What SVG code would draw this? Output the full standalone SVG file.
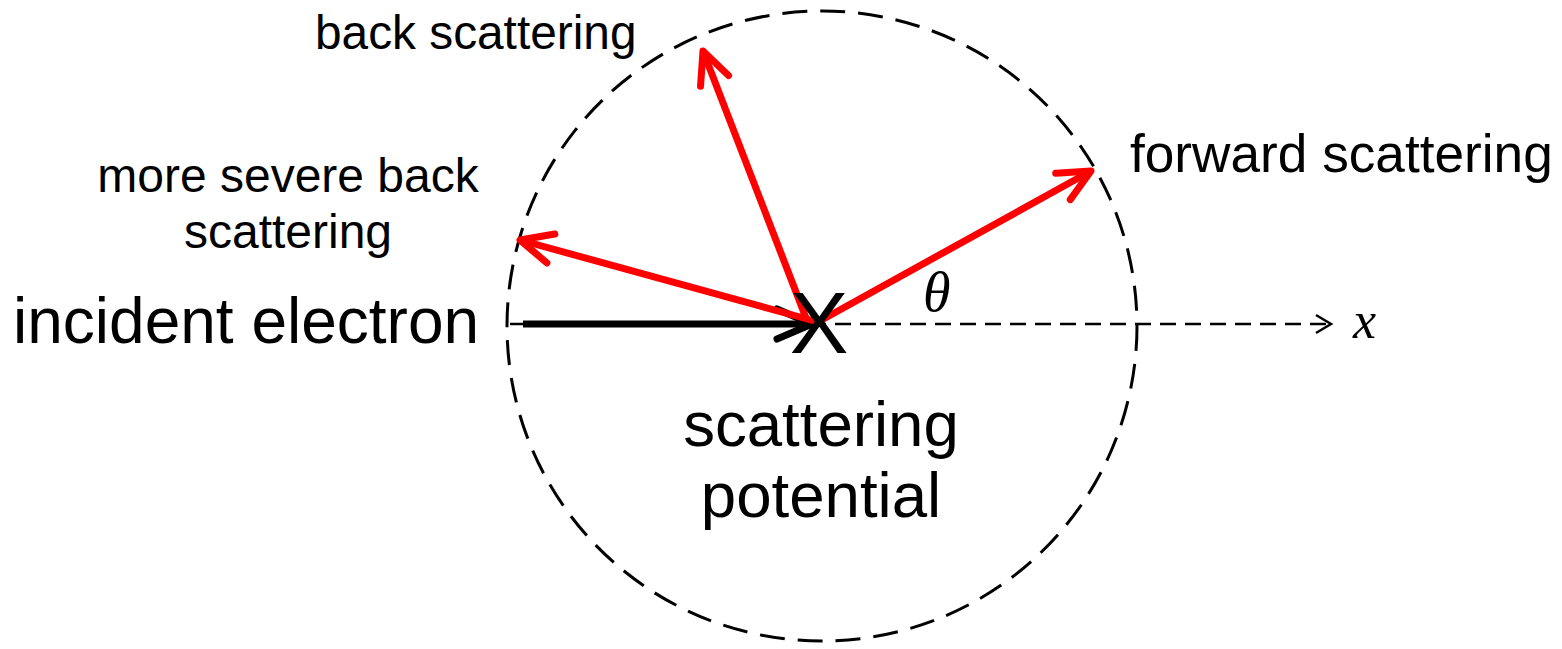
<svg xmlns="http://www.w3.org/2000/svg" width="1562" height="649" viewBox="0 0 1562 649">
<style>
.t{font-family:"Liberation Sans",Arial,sans-serif;fill:#000}
.m{font-family:"Liberation Serif","Times New Roman",serif;font-style:italic;fill:#000}
.red{stroke:#FF0000;stroke-width:7;fill:none}
.blk{stroke:#000;stroke-width:7;fill:none}
</style>
<defs>
<marker id="arR" markerUnits="userSpaceOnUse" viewBox="-40 -25 50 50" refX="0" refY="0" markerWidth="50" markerHeight="50" orient="auto" overflow="visible">
<path d="M-32,-15 L0,0 L-32,15" fill="none" stroke="#FF0000" stroke-width="7" stroke-linecap="round" stroke-linejoin="round"/>
</marker>
<marker id="arK" markerUnits="userSpaceOnUse" viewBox="-40 -25 50 50" refX="0" refY="0" markerWidth="50" markerHeight="50" orient="auto" overflow="visible">
<path d="M-35,-15 L0,0 L-35,15" fill="none" stroke="#000" stroke-width="7" stroke-linecap="round" stroke-linejoin="round"/>
</marker>
<marker id="arT" markerUnits="userSpaceOnUse" viewBox="-20 -12 24 24" refX="0" refY="0" markerWidth="24" markerHeight="24" orient="auto" overflow="visible">
<path d="M-15,-9 L0,0 L-15,9" fill="none" stroke="#000" stroke-width="2.5"/>
</marker>
</defs>
<g id="potential-circle">
<circle cx="822" cy="326" r="315" fill="none" stroke="#000" stroke-width="3" stroke-dasharray="25 13"/>
</g>
<g id="connectors">
<line id="x-axis" x1="510" y1="324" x2="1331" y2="324" stroke="#000" stroke-width="2.5" stroke-dasharray="16 9" marker-end="url(#arT)"/>
<line id="incident" x1="523" y1="324" x2="812" y2="324" class="blk" marker-end="url(#arK)"/>
<line id="back" x1="806" y1="318" x2="703" y2="51" class="red" marker-end="url(#arR)"/>
<line id="severe-back" x1="818" y1="322" x2="520" y2="240" class="red" marker-end="url(#arR)"/>
<line id="forward" x1="818" y1="322" x2="1091" y2="171" class="red" marker-end="url(#arR)"/>
</g>
<g id="scatter-center">
<text class="t" x="819" y="353" font-size="88" text-anchor="middle">X</text>
</g>
<g id="labels">
<text class="t" x="13" y="343" font-size="64">incident electron</text>
<text class="t" x="315" y="49" font-size="47.8">back scattering</text>
<text class="t" x="288" y="192" font-size="48" text-anchor="middle">more severe back</text>
<text class="t" x="288" y="248" font-size="48" text-anchor="middle">scattering</text>
<text class="t" x="1130" y="172" font-size="53.2">forward scattering</text>
<text class="t" x="821" y="446" font-size="63.6" text-anchor="middle">scattering</text>
<text class="t" x="821" y="517" font-size="63.6" text-anchor="middle">potential</text>
<text class="m" x="923" y="311" font-size="56">θ</text>
<text class="m" x="1353" y="338" font-size="52">x</text>
</g>
</svg>
